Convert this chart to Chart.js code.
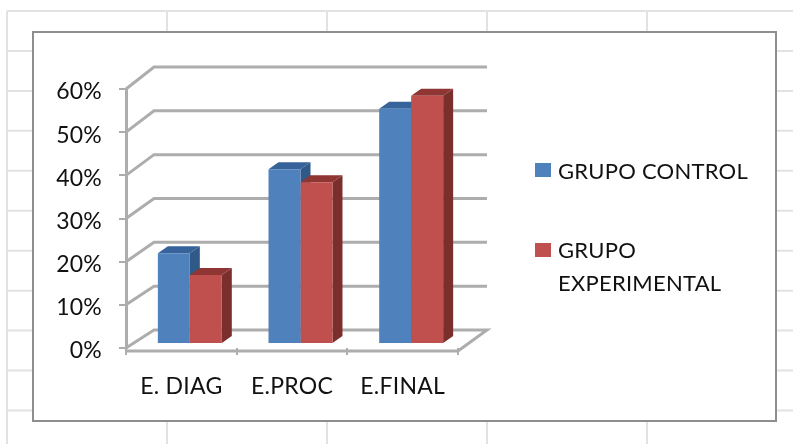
<!DOCTYPE html>
<html><head><meta charset="utf-8">
<style>html,body{margin:0;padding:0;background:#fff;overflow:hidden}
#w{width:793px;height:444px;position:relative}canvas{display:block;filter:blur(0.5px)}</style>
<script src="https://cdn.jsdelivr.net/npm/chart.js@4"></script></head>
<body><div id="w"><canvas id="c" width="793" height="444"></canvas></div>
<script>
const categories = ['E. DIAG', 'E.PROC', 'E.FINAL'];
const grupoControl = [0.21, 0.405, 0.545];
const grupoExperimental = [0.16, 0.375, 0.575];
const yTicks = [0, 0.1, 0.2, 0.3, 0.4, 0.5, 0.6];
const seriesNames = ['GRUPO CONTROL', 'GRUPO EXPERIMENTAL'];

const FONT = '22px Lato';
const SPACING = '0.25px';
const GRID = '#adadad';
const BAR = {dx: 8.5, dy: -4};
const DEPTH = {dx: 10, dy: -7};
const SIDE = ['#2f5987', '#7b2f2d'], TOP = ['#35639a', '#8f3533'];

function poly(ctx, pts, fill) {
  ctx.beginPath();
  pts.forEach((p, i) => i ? ctx.lineTo(p[0], p[1]) : ctx.moveTo(p[0], p[1]));
  ctx.closePath(); ctx.fillStyle = fill; ctx.fill();
}
const scene = {
  id: 'scene',
  beforeDraw(chart) {
    const ctx = chart.ctx;
    ctx.letterSpacing = SPACING;
    ctx.save();
    ctx.fillStyle = '#fff'; ctx.fillRect(0, 0, 793, 444);
    ctx.strokeStyle = '#e2e2e2'; ctx.lineWidth = 2;
    ctx.beginPath();
    for (let i = 0; i < 11; i++) { const y = 11 + i * 39.95; ctx.moveTo(7, y); ctx.lineTo(793, y); }
    ctx.moveTo(7, 11); ctx.lineTo(7, 444);
    for (let i = 0; i < 4; i++) { const x = 167 + i * 160; ctx.moveTo(x, 11); ctx.lineTo(x, 444); }
    ctx.stroke();
    ctx.fillStyle = '#fff'; ctx.fillRect(33, 32, 743, 389);
    ctx.strokeStyle = '#8e8e8e'; ctx.lineWidth = 2; ctx.strokeRect(33, 32, 743, 389);
    ctx.restore();
  },
  beforeDatasetsDraw(chart) {
    const ctx = chart.ctx, ys = chart.scales.y, a = chart.chartArea;
    ctx.save();
    ctx.strokeStyle = GRID; ctx.lineWidth = 3; ctx.lineJoin = 'miter';
    yTicks.forEach((t, i) => {
      const y = ys.getPixelForValue(t);
      const by = y - 18 - 4 * t / 0.6;
      ctx.beginPath();
      ctx.moveTo(a.left, y);
      ctx.lineTo(a.left + 28, by);
      ctx.lineTo(a.right + 29, by);
      if (i === 0) { ctx.lineTo(a.right, y + 3); ctx.lineTo(a.left, y + 3); }
      ctx.stroke();
    });
    ctx.restore();
    ctx.save();
    ctx.translate(BAR.dx, BAR.dy);
    chart.data.datasets.forEach((ds, di) => {
      chart.getDatasetMeta(di).data.forEach(b => {
        const l = b.x - b.width / 2, r = b.x + b.width / 2, t = b.y, bt = b.base;
        poly(ctx, [[r, t], [r + DEPTH.dx, t + DEPTH.dy], [r + DEPTH.dx, bt + DEPTH.dy], [r, bt]], SIDE[di]);
        poly(ctx, [[l, t], [l + DEPTH.dx, t + DEPTH.dy], [r + DEPTH.dx, t + DEPTH.dy], [r, t]], TOP[di]);
      });
    });
    ctx.restore();
    ctx.save();
    ctx.translate(BAR.dx, BAR.dy);
  },
  afterDatasetsDraw(chart) {
    chart.ctx.restore();
  },
  afterDraw(chart) {
    const ctx = chart.ctx;
    ctx.save();
    ctx.font = FONT; ctx.textBaseline = 'middle'; ctx.textAlign = 'left';
    const ds = chart.data.datasets;
    ctx.fillStyle = ds[0].backgroundColor; ctx.fillRect(535, 163, 16, 14);
    ctx.fillStyle = ds[1].backgroundColor; ctx.fillRect(535, 243, 16, 14);
    ctx.fillStyle = '#111';
    ctx.fillText(ds[0].label, 558, 172);
    const parts = ds[1].label.split(' ');
    ctx.fillText(parts[0], 558, 251);
    ctx.fillText(parts[1], 558, 284);
    ctx.restore();
  }
};
new Chart(document.getElementById('c'), {
  type: 'bar',
  plugins: [scene],
  data: {
    labels: categories,
    datasets: [
      {label: seriesNames[0], data: grupoControl, backgroundColor: '#4f81bd', clip: false},
      {label: seriesNames[1], data: grupoExperimental, backgroundColor: '#c0504d', clip: false}
    ]
  },
  options: {
    responsive: false, animation: false, devicePixelRatio: 1,
    layout: {padding: {left: 34, right: 335, top: 89, bottom: 46}},
    categoryPercentage: 0.578, barPercentage: 1,
    plugins: {legend: {display: false}, tooltip: {enabled: false}, title: {display: false}},
    scales: {
      x: {
        afterFit(s) { s.height = 50; },
        grid: {drawOnChartArea: false, color: GRID, lineWidth: 2, tickLength: 7, offset: true},
        border: {display: false},
        ticks: {color: '#111', font: {family: 'Lato', size: 23}, padding: 18, maxRotation: 0}
      },
      y: {
        min: 0, max: 0.6,
        afterFit(s) { s.width = 92; },
        afterBuildTicks(s) { s.ticks = yTicks.map(v => ({value: v})); },
        afterUpdate(s) {
          const draw = s.constructor.prototype.drawLabels;
          s.drawLabels = function (area) {
            const c = s.ctx; c.save(); c.translate(0, 3); draw.call(s, area); c.restore();
          };
        },
        grid: {drawOnChartArea: false, color: GRID, lineWidth: 2, tickLength: 7},
        border: {display: true, color: GRID, width: 3},
        ticks: {color: '#111', font: {family: 'Lato', size: 23}, padding: 17,
          callback: v => Math.round(v * 100) + '%'}
      }
    }
  }
});
</script></body></html>
